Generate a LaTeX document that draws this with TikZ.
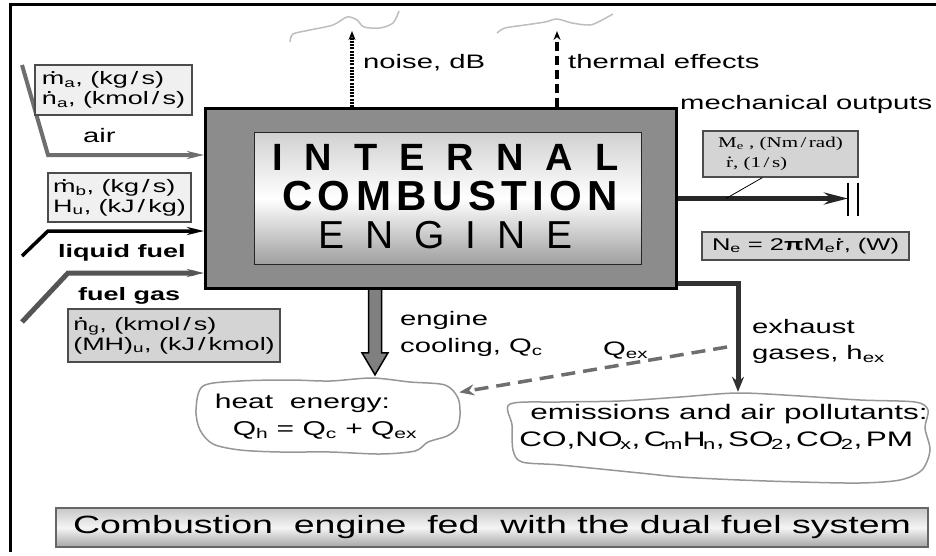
\documentclass[tikz,border=0pt]{standalone}
\usepackage{fontspec}
\setmainfont{Liberation Sans}[FakeStretch=1.5]
\newfontfamily\engfont{Liberation Sans}
\newfontfamily\serfont{Liberation Serif}[FakeStretch=1.4]
\usetikzlibrary{arrows.meta,positioning,calc}
\definecolor{enginegray}{RGB}{140,140,140}
\definecolor{lightbox}{RGB}{240,240,240}
\definecolor{midbox}{RGB}{212,212,212}
\definecolor{wavegray}{RGB}{190,190,190}
\definecolor{cloudgray}{RGB}{150,150,150}
\definecolor{airgray}{RGB}{110,110,110}
\definecolor{gasgray}{RGB}{85,85,85}
\definecolor{exhgray}{RGB}{50,50,50}
\newcommand{\ovdot}[1]{\ooalign{#1\cr\hidewidth\raisebox{0.6em}{.}\hidewidth\cr}}
\newcommand{\fs}[2]{\fontsize{#1}{#2}\selectfont}

\begin{document}
\begin{tikzpicture}[x=1pt,y=-1pt,
  lbl/.style={anchor=base west,inner sep=0pt,font=\fs{19.5}{24}},
  boldlbl/.style={anchor=base west,inner sep=0pt,font=\bfseries\fs{18}{22}},
  qbox/.style={draw=black!70,line width=1.2pt,align=left,inner xsep=4pt,inner ysep=0pt,font=\fs{18}{20}},
  bigletters/.style={anchor=base west,inner sep=0pt},
  enginebox/.style={draw,line width=3pt,fill=enginegray,minimum width=471pt,minimum height=180pt,inner sep=0pt},
  corebox/.style={draw=black!85,line width=1pt,minimum width=387pt,minimum height=132pt,inner sep=0pt,
    top color=black!18,bottom color=black!38,middle color=white},
  inarrow/.style={line width=#1,-{Stealth[length=17pt,width=8pt]}},
  noisearrow/.style={line width=3.5pt,dash pattern=on 2pt off 1.2pt,-{Stealth[length=9pt,width=7pt]}},
  heatarrow/.style={line width=3.5pt,dash pattern=on 9pt off 5pt,-{Stealth[length=9pt,width=7pt]}},
  wave/.style={wavegray,line width=1.5pt},
  shaftarrow/.style={line width=5pt,black!85,-{Stealth[length=24pt,width=12pt]}},
  exharrow/.style={line width=5pt,exhgray,-{Stealth[length=15pt,width=12pt]}},
  qexarrow/.style={line width=3.5pt,airgray,dash pattern=on 14pt off 8pt,-{Stealth[length=15pt,width=11pt]}},
  coolarrow/.style={draw=black,line width=1.5pt,fill=black!50,line join=miter},
  cloudline/.style={cloudgray,line width=1.5pt},
  cloudtxt/.style={align=left,inner sep=0pt,font=\fs{20}{27}},
  titlebox/.style={draw=black!60,line width=2pt,minimum width=872pt,minimum height=39pt,inner sep=0pt,
    top color=black!22,bottom color=black!35,middle color=black!4,font=\fs{25}{25}}]

\useasboundingbox (0,0) rectangle (936,555);
\draw[line width=3pt] (10,552) -- (10,4.5) -- (936,4.5);

\node[enginebox] (engine) at (441,198.5) {};
\node[corebox] (core) at (448,198.5) {};
\node[bigletters,font=\engfont\bfseries\fs{38}{38}\addfontfeatures{LetterSpace=58}] (internal) at (272,170) {INTERNAL};
\node[bigletters,font=\engfont\bfseries\fs{42}{42}\addfontfeatures{LetterSpace=13}] (combust) at (282,210) {COMBUSTION};
\node[bigletters,font=\engfont\fs{39}{39}\addfontfeatures{LetterSpace=54}] (eng) at (318,248) {ENGINE};

\coordinate (airsrc) at (22,65);
\coordinate (airbend) at (48,155);
\coordinate (liqsrc) at (22,256);
\coordinate (liqbend) at (48,231);
\coordinate (gassrc) at (22,322);
\coordinate (gasbend) at (68,273);
\draw[inarrow=4pt,airgray] (airsrc) -- (airbend) -- (airbend -| engine.west);
\draw[inarrow=3.5pt,black] (liqsrc) -- (liqbend) -- (liqbend -| engine.west);
\draw[inarrow=5pt,gasgray] (gassrc) -- (gasbend) -- (gasbend -| engine.west);

\node[qbox,fill=lightbox,minimum width=157pt,minimum height=50pt] (airbox) at (113.5,90)
  {\ovdot{m}\textsubscript{a}, (kg\,/\,s)\\\ovdot{n}\textsubscript{a}, (kmol\,/\,s)};
\node[lbl] (airlbl) at (83,142) {air};
\node[qbox,fill=lightbox,minimum width=143pt,minimum height=49pt] (liqbox) at (119.5,197.5)
  {\ovdot{m}\textsubscript{b}, (kg\,/\,s)\\H\textsubscript{u}, (kJ\,/\,kg)};
\node[boldlbl] (liqlbl) at (58,257) {liquid fuel};
\node[boldlbl] (gaslbl) at (78,300) {fuel gas};
\node[qbox,fill=midbox,minimum width=212pt,minimum height=53pt] (gasbox) at (174,335.5)
  {\ovdot{n}\textsubscript{g}, (kmol\,/\,s)\\(MH)\textsubscript{u}, (kJ\,/\,kmol)};

\coordinate (noisetop) at (352,31);
\coordinate (heattop) at (557,31);
\draw[noisearrow] (noisetop |- engine.north) -- (noisetop);
\draw[heatarrow] (heattop |- engine.north) -- (heattop);
\draw[wave] plot[smooth] coordinates {(290,42) (293,34) (310,30) (333,25) (347,17) (357,20) (364,27) (380,28) (393,23) (399,11)};
\draw[wave] plot[smooth] coordinates {(497,33) (505,28) (525,25) (545,22) (557,19) (572,23) (590,25) (602,20) (613,14)};
\node[lbl] (noiselbl) at (363,68) {noise, dB};
\node[lbl] (thermlbl) at (568,68) {thermal effects};

\node[lbl] (mechlbl) at (680,109) {mechanical outputs};
\node[qbox,fill=midbox,minimum width=155pt,minimum height=46pt,inner xsep=8pt,font=\serfont\fs{15}{20}] (mebox) at (780.5,154)
  {M\textsubscript{e} , (Nm\,/\,rad)\\\hspace{8pt}\ovdot{r}, (1\,/\,s)};
\coordinate (coupl) at (848,198.5);
\draw[shaftarrow] (engine.east) -- (coupl);
\draw[line width=1.2pt] ($(coupl)+(0,-16)$) -- ($(coupl)+(0,17)$);
\draw[line width=1.2pt] ($(coupl)+(10,-16)$) -- ($(coupl)+(10,17)$);
\draw[line width=0.8pt] ($(mebox.south west)+(60,0)$) -- ($(engine.east)+(48,0)$);
\node[qbox,fill=midbox,minimum width=207pt,minimum height=28pt,align=center,font=\fs{17}{20}] (nebox) at (805.5,246)
  {N\textsubscript{e} = 2\textbf{π}M\textsubscript{e}\ovdot{r}, (W)};

\node[cloudtxt,minimum width=286pt,minimum height=83pt] (heat) at (316,416.5)
  {heat\ \ energy:\\\hspace{18pt}Q\textsubscript{h} = Q\textsubscript{c} + Q\textsubscript{ex}};
\draw[cloudline] plot[smooth cycle] coordinates {(203,386) (240,381) (290,380) (330,381) (372,378) (410,382) (445,385) (458,398) (460,415) (457,428) (447,436) (428,442) (415,451) (380,454) (330,452) (280,452) (240,450) (213,444) (200,430) (196,410)};
\coordinate (coolx) at (375,0);
\draw[coolarrow] ($(coolx |- engine.south)+(-6.5,0)$) -- ($(coolx |- heat.north)+(-6.5,-22)$) -- ++(-6.5,0)
  -- (coolx |- heat.north) -- ++(13,-22) -- ++(-6.5,0) -- ($(coolx |- engine.south)+(6.5,0)$);
\node[lbl] (coollbl1) at (400,325) {engine};
\node[lbl] (coollbl2) at (400,352) {cooling, Q\textsubscript{c}};

\node[cloudtxt,font=\fs{21}{27},minimum height=69pt] (emis) at (723.5,426.5)
  {\hspace{11pt}emissions and air pollutants:\\CO,NO\kern-0.12em\textsubscript{x},\,C\kern-0.12em\textsubscript{m}H\kern-0.12em\textsubscript{n},\,SO\kern-0.12em\textsubscript{2},\,CO\kern-0.12em\textsubscript{2},\,PM};
\draw[cloudline] plot[smooth cycle] coordinates {(510,404) (560,402) (620,401) (680,397) (738,393) (800,396) (860,400) (915,402) (928,410) (925,428) (930,450) (922,470) (900,480) (860,483) (800,482) (740,480) (680,477) (640,473) (560,465) (522,462) (513,450) (512,425)};
\coordinate (exhx) at (738,0);
\draw[exharrow] ([yshift=7pt]engine.south east) -| (exhx |- emis.north);
\node[lbl] (exhlbl1) at (752,333) {exhaust};
\node[lbl] (exhlbl2) at (752,359) {gases, h\textsubscript{ex}};

\coordinate (qexsrc) at (727,347);
\draw[qexarrow] (qexsrc) -- (heat);
\node[lbl] (qexlbl) at (603,355) {Q\textsubscript{ex}};

\node[titlebox] (title) at (492,527.5) {Combustion\ \ engine\ \ fed\ \ with the dual fuel system};
\end{tikzpicture}
\end{document}
